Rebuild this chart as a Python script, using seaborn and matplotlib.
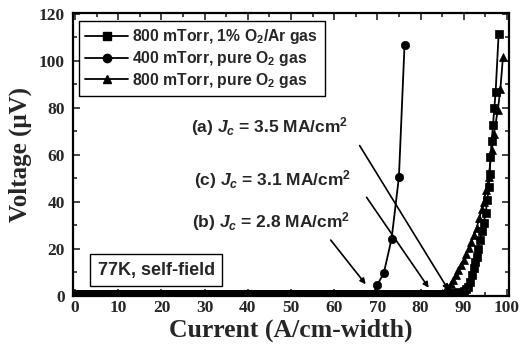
import matplotlib
matplotlib.use("Agg")
import matplotlib.pyplot as plt
import seaborn as sns
from matplotlib.ticker import MultipleLocator
from matplotlib.lines import Line2D

sns.set_style("ticks")
plt.rcParams["font.family"] = ["Liberation Sans", "DejaVu Sans"]
plt.rcParams["mathtext.fontset"] = "custom"
plt.rcParams["mathtext.rm"] = "Liberation Sans:bold"
plt.rcParams["mathtext.it"] = "Liberation Sans:italic:bold"
plt.rcParams["mathtext.bf"] = "Liberation Sans:bold"

# Superconducting (near-zero voltage) part of the current sweep, A/cm-width
baseline_current = [0, 1, 2, 3, 4, 5, 6, 7, 8, 9, 10, 11, 12, 13, 14, 15, 16, 17,
                    18, 19, 20, 21, 22, 23, 24, 25, 26, 27, 28, 29, 30, 31, 32, 33,
                    34, 35, 36, 37, 38, 39, 40, 41, 42, 43, 44, 45, 46, 47, 48, 49,
                    50, 51, 52, 53, 54, 55, 56, 57, 58, 59, 60, 61, 62, 63, 64, 65,
                    66, 67, 68, 69, 70, 71, 72, 73, 74, 75, 76, 77, 78, 79, 80, 81,
                    82, 83, 84]
baseline_voltage = [0.8, 0.8, 0.8, 0.8, 0.8, 0.8, 0.8, 0.8, 0.8, 0.8, 0.8, 0.8,
                    0.8, 0.8, 0.8, 0.8, 0.8, 0.8, 0.8, 0.8, 0.8, 0.8, 0.8, 0.8,
                    0.8, 0.8, 0.8, 0.8, 0.8, 0.8, 0.8, 0.8, 0.8, 0.8, 0.8, 0.8,
                    0.8, 0.8, 0.8, 0.8, 0.8, 0.8, 0.8, 0.8, 0.8, 0.8, 0.8, 0.8,
                    0.8, 0.8, 0.8, 0.8, 0.8, 0.8, 0.8, 0.8, 0.8, 0.8, 0.8, 0.8,
                    0.8, 0.8, 0.8, 0.8, 0.8, 0.8, 0.8, 0.8, 0.8, 0.8, 0.8, 0.8,
                    0.8, 0.8, 0.8, 0.8, 0.8, 0.8, 0.8, 0.8, 0.8, 0.8, 0.9, 0.9,
                    1.0]

# 800 mTorr, 1% O2/Ar: resistive transition
ar_current = [85, 86, 87, 88, 89, 90, 90.5, 91, 91.5, 92, 92.3, 92.7, 93, 93.4,
              93.8, 94.2, 94.6, 95.1, 95.5, 95.8, 96.0, 96.2, 96.5, 96.8, 97.1,
              97.4, 98.1]
ar_voltage = [1.0, 1.0, 1.1, 1.2, 1.5, 2.2, 3.0, 4.0, 6.0, 9.0, 12.0, 14.5,
              16.6, 20.0, 24.0, 27.5, 31.0, 35.3, 41.0, 46.4, 52.0, 59.0, 66.0,
              72.8, 80.0, 86.8, 111.5]

# 400 mTorr, pure O2: resistive transition
o2low_current = [70, 71.5, 73.3, 75, 76.3]
o2low_voltage = [4.7, 9.8, 24.3, 50.6, 106.8]

# 800 mTorr, pure O2: resistive transition
o2high_current = [85, 85.7, 86.3, 87, 87.6, 88.2, 88.8, 89.4, 90, 90.6, 91.2,
                  91.8, 92.4, 93, 93.6, 94.2, 94.6, 95.2, 95.8, 96.5, 97, 97.9,
                  98.5, 99.1]
o2high_voltage = [1.2, 2.0, 3.5, 5.0, 7.0, 9.0, 11.0, 13.0, 15.5, 18.0, 20.5,
                  23.0, 26.0, 29.0, 33.0, 37.0, 40.0, 45.0, 50.6, 62.0, 69.0,
                  79.0, 88.0, 101.7]

labels = ["800 mTorr, 1% O$_2$/Ar gas",
          "400 mTorr, pure O$_2$ gas",
          "800 mTorr, pure O$_2$ gas"]

# Critical current density annotations: text, text centre, arrow start, arrow tip
jc_texts = ["(a) $J_c$ = 3.5 MA/cm$^2$",
            "(c) $J_c$ = 3.1 MA/cm$^2$",
            "(b) $J_c$ = 2.8 MA/cm$^2$"]
jc_text_pos = [(45.1, 72.0), (45.8, 49.5), (45.4, 31.5)]
jc_arrow_from = [(65.9, 64.0), (67.5, 42.0), (59.2, 23.8)]
jc_arrow_to = [(86.5, 2.5), (81.9, 3.5), (67.3, 5.0)]

fig = plt.figure(figsize=(5.22, 3.52), dpi=100)
ax = fig.add_axes([73 / 522, 1 - 296 / 352, 436 / 522, 283 / 352])

n_low = 70  # the 400 mTorr sample leaves zero voltage just below 70 A/cm-width
series = [
    (baseline_current[:n_low] + o2low_current,
     baseline_voltage[:n_low] + o2low_voltage, "o", 6.0, labels[1]),
    (baseline_current + o2high_current,
     baseline_voltage + o2high_voltage, "^", 6.0, labels[2]),
    (baseline_current + ar_current,
     baseline_voltage + ar_voltage, "s", 5.5, labels[0]),
]
for xs, ys, mk, ms, lab in series:
    sns.lineplot(x=xs, y=ys, ax=ax, color="black", marker=mk, markersize=ms,
                 markeredgecolor="black", markeredgewidth=0.5, linewidth=1.3,
                 estimator=None, sort=False)

handles = [Line2D([], [], color="black", marker=m, markersize=s, linewidth=1.3)
           for m, s in [("s", 5.5), ("o", 6.0), ("^", 6.0)]]
leg = ax.legend(handles, labels, loc="upper left",
                bbox_to_anchor=(0.014, 0.972), borderaxespad=0.0,
                frameon=True, fancybox=False,
                edgecolor="black", handlelength=2.7, handletextpad=0.3,
                labelspacing=0.18, borderpad=0.4,
                prop={"family": "Liberation Sans", "weight": "bold", "size": 11.3})
leg.get_frame().set_linewidth(1.0)
leg.get_frame().set_alpha(1)

for txt, tp, af, at in zip(jc_texts, jc_text_pos, jc_arrow_from, jc_arrow_to):
    ax.text(tp[0], tp[1], txt, ha="center", va="center", fontsize=12.5,
            fontweight="bold", family="Liberation Sans")
    ax.annotate("", xy=at, xytext=af,
                arrowprops=dict(arrowstyle="-|>", color="black", lw=1.2,
                                mutation_scale=8, shrinkA=0, shrinkB=0))

ax.text(18.75, 11.0, "77K, self-field", ha="center", va="center", fontsize=13,
        fontweight="bold", family="Liberation Sans",
        bbox=dict(boxstyle="square,pad=0.4", facecolor="white",
                  edgecolor="black", linewidth=1.0))

ax.set_xlim(-0.5, 100.5)
ax.set_ylim(0, 120.4)
ax.xaxis.set_major_locator(MultipleLocator(10))
ax.xaxis.set_minor_locator(MultipleLocator(5))
ax.yaxis.set_major_locator(MultipleLocator(20))
ax.yaxis.set_minor_locator(MultipleLocator(10))
ax.tick_params(which="both", direction="in", top=True, right=True, width=1.2)
ax.tick_params(axis="x", pad=3)
ax.tick_params(axis="y", pad=6)
ax.tick_params(which="major", length=5)
ax.tick_params(which="minor", length=3)
for lab in ax.get_xticklabels() + ax.get_yticklabels():
    lab.set_family("Liberation Serif")
    lab.set_fontweight("bold")
    lab.set_fontsize(12.5)
for sp in ax.spines.values():
    sp.set_linewidth(1.6)
    sp.set_color("black")

ax.set_xlabel("Current (A/cm-width)", family="Liberation Serif",
              fontweight="bold", fontsize=18.5, labelpad=2)
ax.set_ylabel("Voltage (\u03bcV)", family="Liberation Serif",
              fontweight="bold", fontsize=18, labelpad=5)

fig.savefig("out.png", dpi=100)
